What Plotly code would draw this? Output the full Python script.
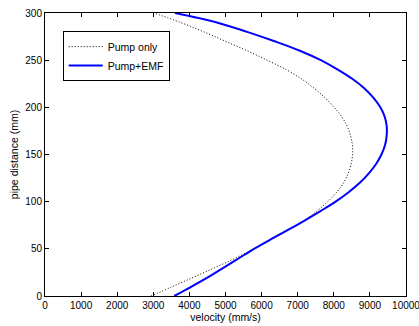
import plotly.graph_objects as go

# pipe distance (mm)
distance = [0, 10, 20, 30, 40, 50, 60, 70, 80, 90, 100, 110, 120, 130, 140, 150,
            160, 170, 180, 190, 200, 210, 220, 230, 240, 250, 260, 270, 280, 290, 300]

# velocity (mm/s), pump only
pump_only = [2935, 3530, 4120, 4700, 5270, 5780, 6280, 6750, 7180, 7530, 7830,
             8080, 8270, 8400, 8480, 8520, 8515, 8465, 8370, 8220, 8010, 7760,
             7460, 7110, 6680, 6150, 5600, 5000, 4400, 3750, 3020]

# velocity (mm/s), pump + EMF
pump_emf = [3580, 4060, 4520, 4950, 5370, 5790, 6250, 6730, 7190, 7630, 8050,
            8410, 8720, 8970, 9170, 9320, 9420, 9465, 9465, 9410, 9290, 9100,
            8850, 8520, 8110, 7640, 7060, 6360, 5600, 4760, 3600]

x_ticks = [0, 1000, 2000, 3000, 4000, 5000, 6000, 7000, 8000, 9000, 10000]
y_ticks = [0, 50, 100, 150, 200, 250, 300]

FONT = "Liberation Sans, Arial, Helvetica, sans-serif"

fig = go.Figure()
fig.add_trace(go.Scatter(x=pump_only, y=distance, mode="lines", name="Pump only",
                         line=dict(color="black", width=1, dash="1px,2px"),
                         line_shape="spline"))
fig.add_trace(go.Scatter(x=pump_emf, y=distance, mode="lines", name="Pump+EMF",
                         line=dict(color="#0000ff", width=2),
                         line_shape="spline"))

axis_common = dict(showline=True, linecolor="black", linewidth=1, mirror="ticks",
                   ticks="inside", ticklen=4, tickcolor="black", showgrid=False,
                   zeroline=False, automargin=False, ticklabeloverflow="allow",
                   tickfont=dict(family=FONT, size=10, color="black"))

fig.update_layout(
    width=419, height=326,
    margin=dict(l=45, r=13, t=13, b=30),
    paper_bgcolor="white", plot_bgcolor="white",
    font=dict(family=FONT, size=10, color="black"),
    showlegend=True,
    legend=dict(x=0.049, y=0.936, xanchor="left", yanchor="top",
                bordercolor="black", borderwidth=1, bgcolor="white",
                font=dict(family=FONT, size=10.5, color="black"),
                itemwidth=34, tracegroupgap=0),
    xaxis=dict(range=[0, 10000], tickvals=x_ticks, ticktext=[str(v) for v in x_ticks],
               title=dict(text="velocity (mm/s)", font=dict(family=FONT, size=10.5), standoff=2),
               **axis_common),
    yaxis=dict(range=[0, 300], tickvals=y_ticks, ticktext=[str(v) for v in y_ticks],
               title=dict(text="pipe distance (mm)", font=dict(family=FONT, size=10.5), standoff=4),
               **axis_common),
)

fig.write_html("out.html", config={"displayModeBar": False},
               post_script="document.body.style.margin='0';")
